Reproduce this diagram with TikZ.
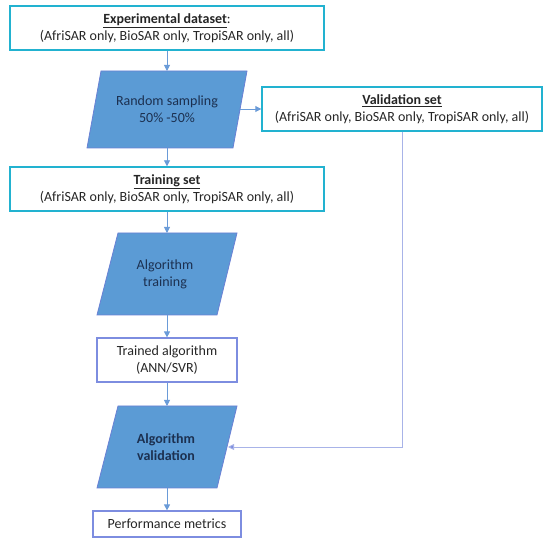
\documentclass[tikz,border=0pt]{standalone}
\usepackage{fontspec}
\setmainfont{Carlito}
\usetikzlibrary{arrows.meta}
\definecolor{cyanb}{HTML}{22B2D0}
\definecolor{lavb}{HTML}{7D8DE0}
\definecolor{parfill}{HTML}{5B9BD5}
\definecolor{paredge}{HTML}{6A80D4}
\definecolor{arrowc}{HTML}{6A9BD8}
\definecolor{fbline}{HTML}{A8B3E8}
\definecolor{txt}{HTML}{262626}
\definecolor{ptxt}{HTML}{1C3050}
\tikzset{
  box/.style={draw=cyanb, line width=1.4pt, fill=white, align=center, text=txt, inner sep=0pt, font=\fontsize{14}{17}\selectfont},
  lbox/.style={draw=lavb, line width=1.2pt, fill=white, align=center, text=txt, inner sep=0pt, font=\fontsize{14}{17}\selectfont},
  ptext/.style={align=center, text=ptxt, inner sep=0pt, font=\fontsize{14}{17}\selectfont},
  par/.style={fill=parfill, draw=paredge, line width=0.8pt},
  conn/.style={draw=arrowc, line width=0.9pt, -{Triangle[width=6pt,length=6pt]}},
  fb/.style={draw=fbline, line width=0.9pt, -{Triangle[width=6pt,length=6pt,fill=lavb]}}
}
\begin{document}
\begin{tikzpicture}[x=1pt,y=-1pt]
\useasboundingbox (0,0) rectangle (550,548);
% Experimental dataset
\node[box, minimum width=314pt, minimum height=44pt] (exp) at (167,28)
  {\underline{\textbf{Experimental dataset}}:\\(AfriSAR only, BioSAR only, TropiSAR only, all)};
% Random sampling parallelogram
\path[par] (101,71) -- (247,71) -- (233,148) -- (87,148) -- cycle;
\coordinate (p1t) at (167,71);
\coordinate (p1r) at (240,109);
\node[ptext] (p1) at (167,109) {Random sampling\\50\% -50\%};
% Validation set
\node[box, minimum width=280pt, minimum height=44pt] (val) at (402,109)
  {\underline{\textbf{Validation set}}\\(AfriSAR only, BioSAR only, TropiSAR only, all)};
% Training set
\node[box, minimum width=314pt, minimum height=44pt] (tr) at (167,189)
  {\underline{\textbf{Training set}}\\(AfriSAR only, BioSAR only, TropiSAR only, all)};
% Algorithm training
\path[par] (118,233) -- (237,233) -- (217,315) -- (97,315) -- cycle;
\coordinate (p2t) at (167,233);
\coordinate (p2b) at (167,315);
\node[ptext] (p2) at (165,274) {Algorithm\\training};
% Trained algorithm
\node[lbox, minimum width=140pt, minimum height=44pt] (ta) at (167,360)
  {Trained algorithm\\(ANN/SVR)};
% Algorithm validation
\path[par] (118,406) -- (237,406) -- (217,488) -- (97,488) -- cycle;
\coordinate (p3t) at (167,406);
\coordinate (p3b) at (167,488);
\coordinate (p3r) at (228,447);
\node[ptext, font=\fontsize{14}{17}\selectfont\bfseries] (p3) at (166,447) {Algorithm\\validation};
% Performance metrics
\node[lbox, minimum width=148pt, minimum height=26pt] (pm) at (167,524)
  {Performance metrics};
% connectors
\draw[conn] (exp.south) -- (p1t);
\draw[conn] (p1r) -- (val.west);
\draw[conn] (167,148) -- (tr.north);
\draw[conn] (tr.south) -- (p2t);
\draw[conn] (p2b) -- (ta.north);
\draw[conn] (ta.south) -- (p3t);
\draw[conn] (p3b) -- (pm.north);
\coordinate (fbc) at (402,447);
\draw[fb] (val.south) -- (fbc) -- (p3r);
\end{tikzpicture}
\end{document}
